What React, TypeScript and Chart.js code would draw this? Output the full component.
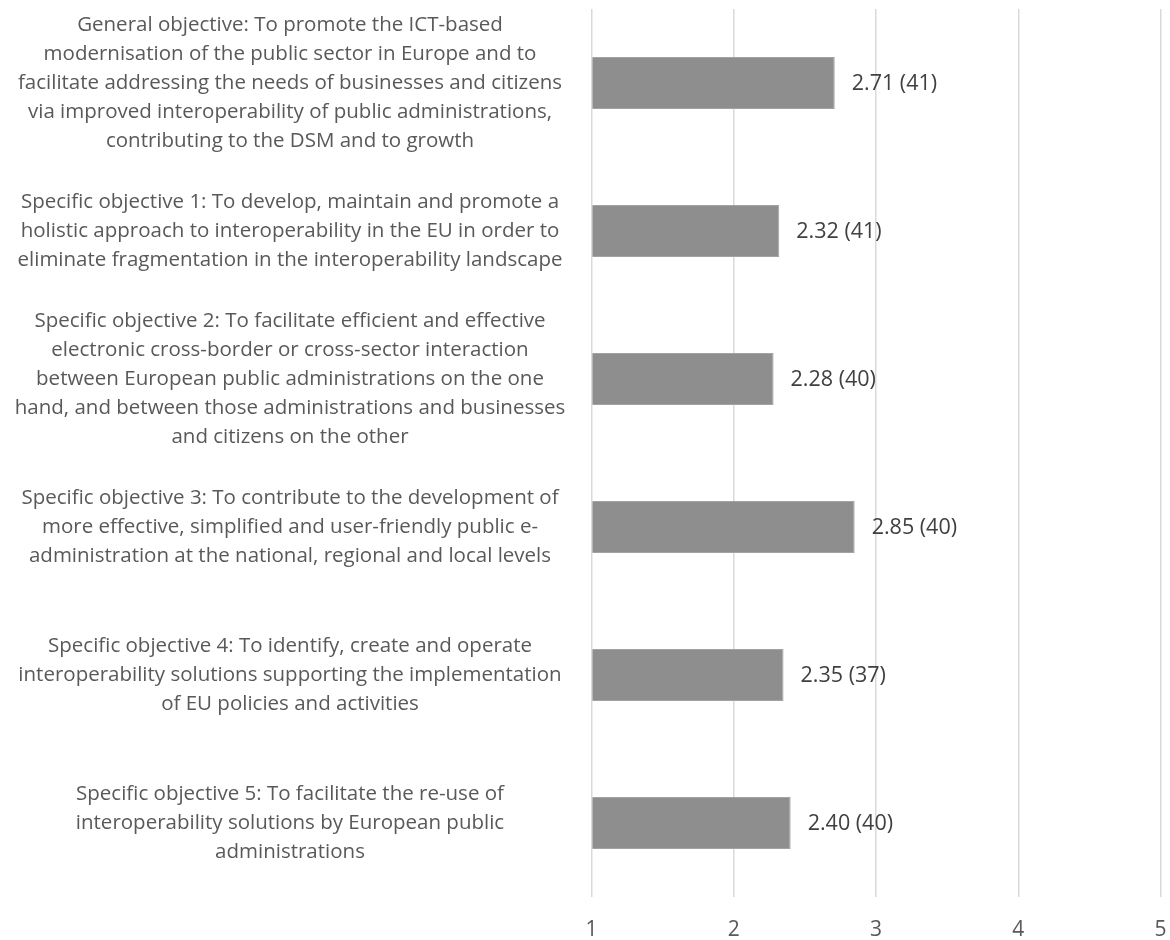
import React, { useEffect, useRef } from "react";
import { Chart, registerables } from "chart.js";

Chart.register(...registerables);

const categories: string[][] = [
  [
    "General objective: To promote the ICT-based",
    "modernisation of the public sector in Europe and to",
    "facilitate addressing the needs of businesses and citizens",
    "via improved interoperability of public administrations,",
    "contributing to the DSM and to growth",
  ],
  [
    "Specific objective 1: To develop, maintain and promote a",
    "holistic approach to interoperability in the EU in order to",
    "eliminate fragmentation in the interoperability landscape",
  ],
  [
    "Specific objective 2: To facilitate efficient and effective",
    "electronic cross-border or cross-sector interaction",
    "between European public administrations on the one",
    "hand, and between those administrations and businesses",
    "and citizens on the other",
  ],
  [
    "Specific objective 3: To contribute to the development of",
    "more effective, simplified and user-friendly public e-",
    "administration at the national, regional and local levels",
  ],
  [
    "Specific objective 4: To identify, create and operate",
    "interoperability solutions supporting the implementation",
    "of EU policies and activities",
  ],
  [
    "Specific objective 5: To facilitate the re-use of",
    "interoperability solutions by European public",
    "administrations",
  ],
];

const scores: number[] = [2.71, 2.32, 2.28, 2.85, 2.35, 2.4];
const counts: number[] = [41, 41, 40, 40, 37, 40];
const xTicks: number[] = [1, 2, 3, 4, 5];

const FONT = "'Open Sans', sans-serif";
const LABEL_SIZE = 20.5;
const LABEL_CENTER_X = 290;
const PLOT_LEFT = 591.5;

export default function App() {
  const ref = useRef<HTMLCanvasElement>(null);

  useEffect(() => {
    if (!ref.current) return;

    const mc = document.createElement("canvas").getContext("2d")!;
    mc.font = `${LABEL_SIZE}px ${FONT}`;
    let widest = 0;
    categories.forEach((lines) =>
      lines.forEach((l) => {
        widest = Math.max(widest, mc.measureText(l).width);
      })
    );
    const yPad = PLOT_LEFT - LABEL_CENTER_X - widest / 2;

    const valueLabels = {
      id: "valueLabels",
      afterDatasetsDraw(chart: any) {
        const ctx = chart.ctx;
        const meta = chart.getDatasetMeta(0);
        ctx.save();
        ctx.font = `21.5px ${FONT}`;
        ctx.fillStyle = "#404040";
        ctx.textAlign = "left";
        ctx.textBaseline = "middle";
        meta.data.forEach((bar: any, i: number) => {
          const txt = `${scores[i].toFixed(2)} (${counts[i]})`;
          ctx.fillText(txt, bar.x + 17, bar.y + 1);
        });
        ctx.restore();
      },
    };

    const chart = new Chart(ref.current, {
      type: "bar",
      data: {
        labels: categories,
        datasets: [
          {
            data: scores,
            base: 1,
            backgroundColor: "#8e8e8e",
            borderColor: "#a3a3a3",
            borderWidth: 1,
            barPercentage: 0.352,
            categoryPercentage: 1,
          } as any,
        ],
      },
      options: {
        indexAxis: "y",
        animation: false,
        responsive: false,
        layout: { padding: { top: 9, right: 9.5, left: 0, bottom: 0 } },
        plugins: {
          legend: { display: false },
          tooltip: { enabled: false },
        },
        scales: {
          x: {
            type: "linear",
            min: 1,
            max: 5,
            afterBuildTicks: (scale: any) => {
              scale.ticks = xTicks.map((v) => ({ value: v }));
            },
            afterFit: (scale: any) => {
              scale.height = 43;
              scale.paddingLeft = 0;
              scale.paddingRight = 0;
              scale.paddingTop = 0;
              scale.paddingBottom = 0;
            },
            ticks: {
              color: "#595959",
              font: { family: FONT, size: 21 },
              padding: 20,
            },
            grid: { color: "#d9d9d9", lineWidth: 1.5, drawTicks: false },
            border: { display: false },
          },
          y: {
            type: "category",
            afterFit: (scale: any) => {
              scale.width = PLOT_LEFT;
              scale.paddingLeft = 0;
              scale.paddingRight = 0;
              scale.paddingTop = 0;
              scale.paddingBottom = 0;
            },
            ticks: {
              color: "#595959",
              crossAlign: "center",
              padding: yPad,
              autoSkip: false,
              font: { family: FONT, size: LABEL_SIZE, lineHeight: "29px" },
            },
            grid: { display: false, drawTicks: false },
            border: { display: false },
          },
        },
      },
      plugins: [valueLabels],
    });

    return () => chart.destroy();
  }, []);

  return (
    <div style={{ position: "absolute", left: 0, top: 0, width: 1170, height: 940, background: "#fff" }}>
      <canvas ref={ref} width={1170} height={940} style={{ display: "block" }} />
    </div>
  );
}
